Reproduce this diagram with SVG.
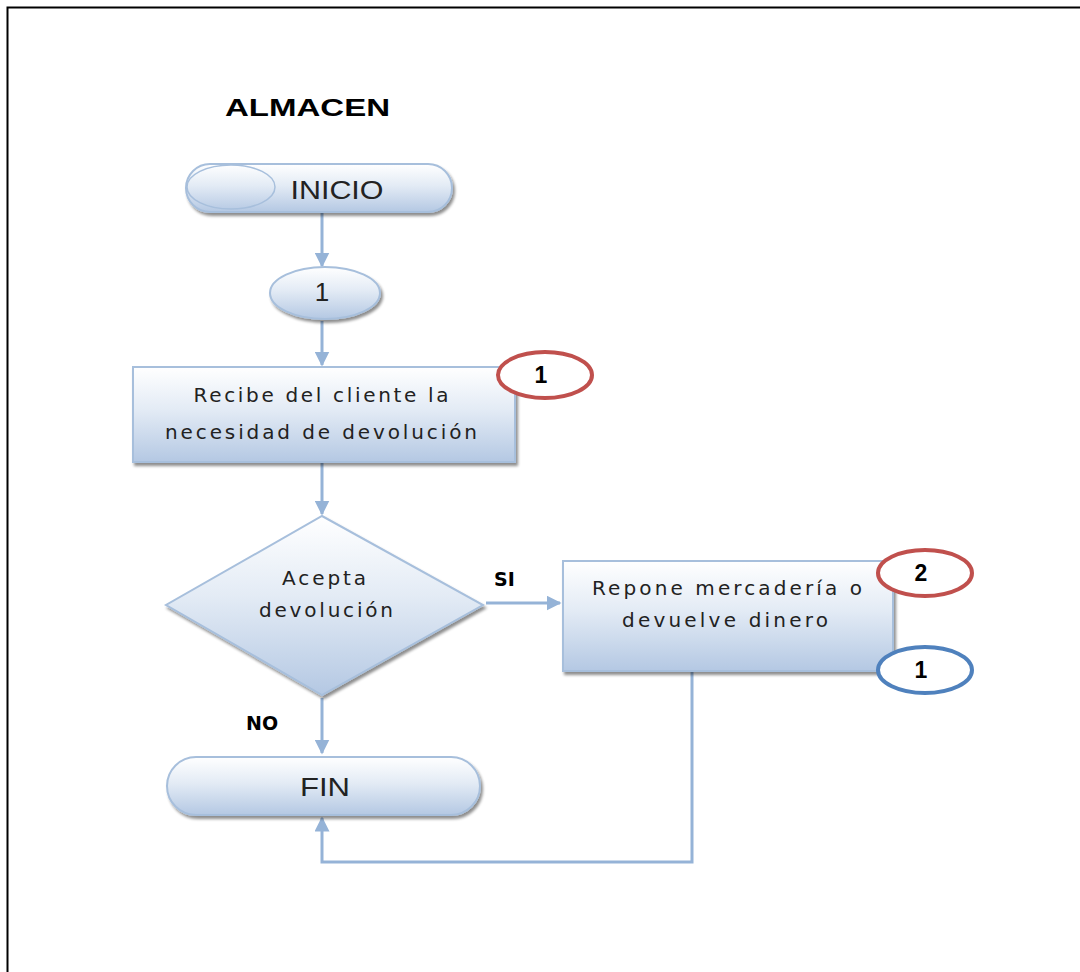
<svg xmlns="http://www.w3.org/2000/svg" width="1080" height="972" viewBox="0 0 1080 972">
  <defs>
    <linearGradient id="shapeFill" x1="0" y1="0" x2="0" y2="1">
      <stop offset="0" stop-color="#ffffff"/>
      <stop offset="0.45" stop-color="#e3ebf5"/>
      <stop offset="1" stop-color="#b4c8e3"/>
    </linearGradient>
    <filter id="shadow" x="-10%" y="-10%" width="125%" height="130%">
      <feGaussianBlur in="SourceAlpha" stdDeviation="1.5"/>
      <feOffset dx="2" dy="3" result="off"/>
      <feComponentTransfer><feFuncA type="linear" slope="0.45"/></feComponentTransfer>
      <feMerge><feMergeNode/><feMergeNode in="SourceGraphic"/></feMerge>
    </filter>
    <marker id="arrow" viewBox="0 0 10 10" refX="9" refY="5" markerWidth="5" markerHeight="5" orient="auto" markerUnits="strokeWidth">
      <path d="M0,0 L10,5 L0,10 z" fill="#95b3d7"/>
    </marker>
    <style>
      .shape { fill: url(#shapeFill); stroke: #a7bfdc; stroke-width: 2; filter: url(#shadow); }
      .conn { fill: none; stroke: #95b3d7; stroke-width: 3; }
      .title { font-family: "Liberation Sans", Arial, sans-serif; font-weight: bold; font-size: 24px; fill: #000; }
      .term { font-family: "Liberation Sans", Arial, sans-serif; font-size: 26px; fill: #222; text-anchor: middle; }
      .lbl { font-family: "DejaVu Sans", Verdana, sans-serif; font-size: 20px; fill: #222; text-anchor: middle; }
      .yn { font-family: "DejaVu Sans", Verdana, sans-serif; font-weight: bold; font-size: 19px; fill: #000; }
      .ref { fill: #fff; stroke-width: 4; }
      .refnum { font-family: "Liberation Sans", Arial, sans-serif; font-weight: bold; font-size: 23px; fill: #000; text-anchor: middle; }
    </style>
  </defs>

  <rect width="1080" height="972" fill="#fff"/>
  <!-- page frame: top and left edges -->
  <path d="M1080,7.5 H7.5 V972" fill="none" stroke="#000" stroke-width="2"/>

  <text class="title" x="225" y="116" textLength="165" lengthAdjust="spacingAndGlyphs">ALMACEN</text>

  <g id="connectors">
    <line class="conn" x1="322" y1="213" x2="322" y2="266" marker-end="url(#arrow)"/>
    <line class="conn" x1="322" y1="321" x2="322" y2="365" marker-end="url(#arrow)"/>
    <line class="conn" x1="322" y1="463" x2="322" y2="514" marker-end="url(#arrow)"/>
    <line class="conn" x1="486" y1="603" x2="560" y2="603" marker-end="url(#arrow)"/>
    <line class="conn" x1="322" y1="698" x2="322" y2="753" marker-end="url(#arrow)"/>
    <polyline class="conn" points="692,672 692,862 322,862 322,818" marker-end="url(#arrow)"/>
  </g>

  <g id="inicio">
    <rect class="shape" x="186" y="164" width="266" height="48" rx="24" ry="24"/>
    <ellipse cx="231" cy="187" rx="44" ry="22" fill="none" stroke="#a7bfdc" stroke-width="1.5"/>
    <text class="term" x="337" y="199" textLength="93" lengthAdjust="spacingAndGlyphs">INICIO</text>
  </g>

  <g id="conector-1">
    <ellipse class="shape" cx="325" cy="293" rx="55" ry="26"/>
    <text class="term" x="322" y="301" font-size="23">1</text>
  </g>

  <g id="recibe">
    <rect class="shape" x="133" y="367" width="382" height="95"/>
    <text class="lbl" x="321" y="402" textLength="255" lengthAdjust="spacing">Recibe del cliente la</text>
    <text class="lbl" x="321" y="439" textLength="312" lengthAdjust="spacing">necesidad de devolución</text>
  </g>

  <g id="ref-rojo-1">
    <ellipse class="ref" cx="545" cy="375" rx="47" ry="23" stroke="#c0504d"/>
    <text class="refnum" x="541" y="383">1</text>
  </g>

  <g id="acepta">
    <polygon class="shape" points="322,516 483,605 322,695 166,605"/>
    <text class="lbl" x="324" y="585" textLength="84" lengthAdjust="spacing">Acepta</text>
    <text class="lbl" x="326" y="617" textLength="134" lengthAdjust="spacing">devolución</text>
  </g>

  <text class="yn" x="494" y="586">SI</text>
  <text class="yn" x="246" y="730">NO</text>

  <g id="repone">
    <rect class="shape" x="563" y="561" width="330" height="110"/>
    <text class="lbl" x="727" y="595" textLength="270" lengthAdjust="spacing">Repone mercadería o</text>
    <text class="lbl" x="725" y="627" textLength="206" lengthAdjust="spacing">devuelve dinero</text>
  </g>

  <g id="ref-rojo-2">
    <ellipse class="ref" cx="925" cy="573" rx="47" ry="23" stroke="#c0504d"/>
    <text class="refnum" x="921" y="581">2</text>
  </g>

  <g id="ref-azul-1">
    <ellipse class="ref" cx="925" cy="670" rx="47" ry="23" stroke="#4f81bd"/>
    <text class="refnum" x="921" y="678">1</text>
  </g>

  <g id="fin">
    <rect class="shape" x="167" y="757" width="313" height="58" rx="29" ry="29"/>
    <text class="term" x="325" y="796" textLength="50" lengthAdjust="spacingAndGlyphs">FIN</text>
  </g>
</svg>
